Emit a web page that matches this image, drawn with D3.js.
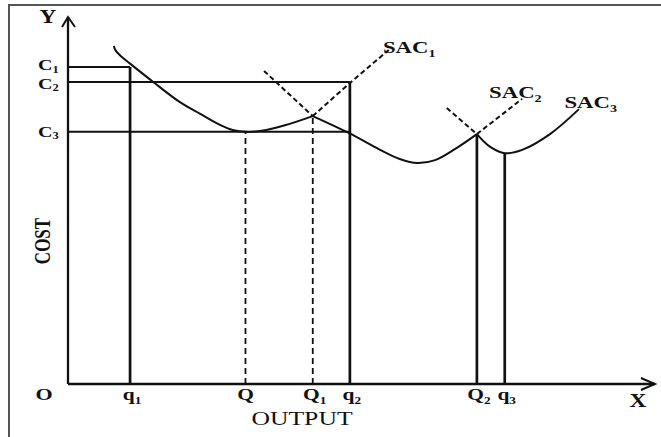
<!DOCTYPE html>
<html><head><meta charset="utf-8">
<script src="https://cdn.jsdelivr.net/npm/d3@7"></script>
<style>html,body{margin:0;padding:0;background:#fff;}svg{display:block;}</style>
</head><body>
<svg id="chart" width="661" height="437"></svg>
<script>
// ---- data (output units on x, cost units on y) ----
const outputMarks = [
  {name:"q", sub:"1", x:10.7, top:86.4, style:"solid"},
  {name:"Q", sub:"",  x:30.6, top:68.7, style:"dash"},
  {name:"Q", sub:"1", x:42.2, top:73.0, style:"dash"},
  {name:"q", sub:"2", x:48.6, top:82.3, style:"solid"},
  {name:"Q", sub:"2", x:70.5, top:68.1, style:"solid"},
  {name:"q", sub:"3", x:75.3, top:62.9, style:"solid"}
];
const costMarks = [
  {name:"C", sub:"1", y:86.4, to:10.7, dy:3.5},
  {name:"C", sub:"2", y:82.3, to:48.6, dy:7},
  {name:"C", sub:"3", y:68.7, to:48.6, dy:5}
];
const sac1Solid = [[7.9,92.1],[8.2,90.9],[9.0,89.5],[10.7,87.3],[14.7,82.3],[19.3,76.8],[22.8,73.6],[26.2,70.6],[28.4,69.2],[30.7,68.7],[33.4,69.0],[37.4,70.5],[42.2,73.0]];
const sac1Dash  = [[42.2,73.0],[48.6,82.0],[55.3,91.0]];
const sac2Dash1 = [[33.8,85.3],[42.2,73.0]];
const sac2Solid = [[42.2,73.0],[48.4,68.4],[53.8,63.8],[57.2,61.3],[60.2,60.2],[63.3,61.0],[66.7,64.0],[70.5,68.1]];
const sac2Dash2 = [[70.5,68.1],[78.3,77.7]];
const sac3Dash  = [[65.3,75.2],[70.5,68.1]];
const sac3Solid = [[70.5,68.1],[72.8,64.6],[75.3,62.9],[78.3,63.8],[83.1,68.1],[88.1,74.9]];
const curveLabels = [
  {name:"SAC", sub:"1", x:54.3, y:90.3},
  {name:"SAC", sub:"2", x:72.6, y:78.0},
  {name:"SAC", sub:"3", x:85.6, y:75.3}
];
const axisMax = {x:101.2, y:100};

// ---- scales ----
const svg = d3.select("#chart");
const x = d3.scaleLinear().domain([0,100]).range([68,648]);
const y = d3.scaleLinear().domain([0,100]).range([384,17]);
const ink = "#111";
const font = "'Liberation Serif', 'Times New Roman', serif";

// frame
svg.append("path").attr("d","M9,437 L9,5 L661,5").attr("fill","none").attr("stroke","#555").attr("stroke-width",2);

// axes
svg.append("line").attr("x1",x(0)).attr("y1",y(0)).attr("x2",x(0)).attr("y2",y(axisMax.y)).attr("stroke",ink).attr("stroke-width",2.3);
svg.append("line").attr("x1",x(0)).attr("y1",y(0)).attr("x2",x(axisMax.x)).attr("y2",y(0)).attr("stroke",ink).attr("stroke-width",2.3);
// arrowheads
svg.append("path").attr("d",`M${x(0)-6},${y(axisMax.y)+10} L${x(0)},${y(axisMax.y)} L${x(0)+7},${y(axisMax.y)+10}`)
  .attr("fill","none").attr("stroke",ink).attr("stroke-width",2);
svg.append("path").attr("d",`M${x(axisMax.x)-14},${y(0)-6} L${x(axisMax.x)},${y(0)} L${x(axisMax.x)-14},${y(0)+6}`)
  .attr("fill","none").attr("stroke",ink).attr("stroke-width",2);

// horizontal cost lines
svg.selectAll("line.cost").data(costMarks).join("line").attr("class","cost")
  .attr("x1",x(0)).attr("x2",d=>x(d.to)).attr("y1",d=>y(d.y)).attr("y2",d=>y(d.y))
  .attr("stroke",ink).attr("stroke-width",2);

// vertical output lines
svg.selectAll("line.out").data(outputMarks).join("line").attr("class","out")
  .attr("x1",d=>x(d.x)).attr("x2",d=>x(d.x)).attr("y1",y(0)).attr("y2",d=>y(d.top))
  .attr("stroke",ink).attr("stroke-width",d=>d.style==="dash"?1.8:2.7)
  .attr("stroke-dasharray",d=>d.style==="dash"?"6,4":null);

// curves
const line = d3.line().x(d=>x(d[0])).y(d=>y(d[1])).curve(d3.curveCatmullRom.alpha(0.5));
const segs = [
  [sac1Solid,false],[sac1Dash,true],[sac2Dash1,true],[sac2Solid,false],[sac2Dash2,true],[sac3Dash,true],[sac3Solid,false]
];
segs.forEach(([pts,dash])=>{
  svg.append("path").attr("d",line(pts)).attr("fill","none").attr("stroke",ink)
    .attr("stroke-width",2).attr("stroke-dasharray",dash?"5,3":null);
});

// text helper
function lbl(px,py,main,sub,size,anchor,weight,sx,subDy){
  const t = svg.append("text")
    .attr("transform",`translate(${px},${py}) scale(${sx||1.3},1)`)
    .attr("font-family",font).attr("font-weight",weight||"bold").attr("font-size",size)
    .attr("fill",ink).attr("text-anchor",anchor||"start");
  t.append("tspan").text(main);
  if(sub) t.append("tspan").attr("font-size",size*0.62).attr("dy",subDy||4).text(sub);
  return t;
}

lbl(48,23,"Y","",18,"middle");
lbl(44,400,"O","",17,"middle");
lbl(638,407,"X","",18,"middle");
costMarks.forEach(d=>lbl(38,y(d.y)+d.dy,d.name,d.sub,15.5,"start","bold",1.3,2.5));
outputMarks.forEach(d=>lbl(x(d.x)+(d.sub?2:0),400,d.name,d.sub,16.5,"middle"));
curveLabels.forEach(d=>lbl(x(d.x),y(d.y),d.name,d.sub,17.5,"start"));
lbl(302,425,"OUTPUT","",19,"middle","normal",1.35);
svg.append("text").attr("transform","translate(50,241) rotate(-90) scale(1,1.3)")
  .attr("font-family",font).attr("font-weight","bold").attr("font-size",17)
  .attr("fill",ink).attr("text-anchor","middle").text("COST");
</script>
</body></html>
